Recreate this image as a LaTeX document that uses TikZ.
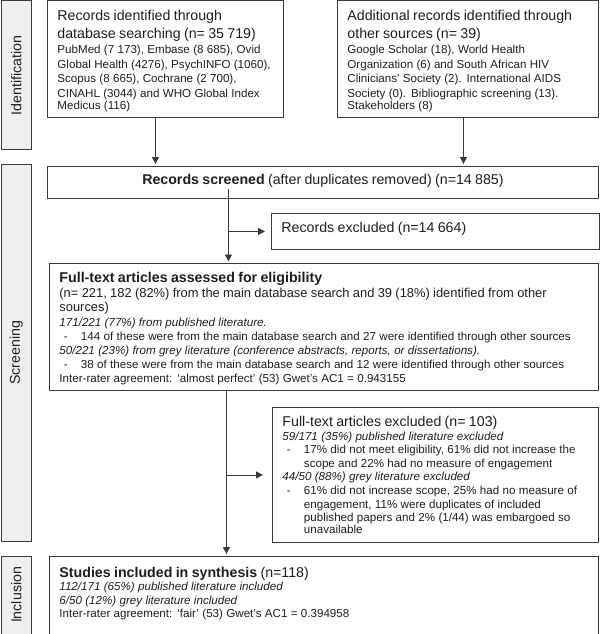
\documentclass[tikz,border=0pt]{standalone}
\usepackage{fontspec}
\usepackage{graphicx}
\setmainfont{Liberation Sans}
\usetikzlibrary{arrows.meta,calc}
\definecolor{lc}{HTML}{3A3A3A}
\definecolor{tc}{HTML}{1E1E1E}
\definecolor{sidefill}{HTML}{EFEFEF}
\newcommand{\fhead}{\fontsize{14.2}{18}\selectfont}
\newcommand{\fmid}{\fontsize{12.9}{14.6}\selectfont}
\newcommand{\fsmall}{\fontsize{11.6}{14.6}\selectfont}
\newcommand{\fsmallb}{\fontsize{11.6}{13.6}\selectfont}
\newcommand{\dashit}{\makebox[21.5pt][l]{\hspace{4.5pt}-}}
\newcommand{\indt}{\hspace*{21.5pt}}
\begin{document}
\begin{tikzpicture}[x=1pt,y=-1pt,
  box/.style={draw=lc, line width=0.9pt, anchor=north west, inner xsep=10pt, inner ysep=0pt, align=left, text=tc},
  side/.style={draw=lc, fill=sidefill, line width=0.9pt, anchor=north west, minimum width=30.5pt, inner sep=0pt, text=tc},
  arr/.style={draw=lc, line width=0.9pt, -{Triangle[length=7pt,width=7pt]}}]
\useasboundingbox (0,0) rectangle (600,634);

% stage labels
\node[side, minimum height=148.5pt] (sid) at (0.5,0.5) {\rotatebox{90}{\fhead Identification}};
\node[side, minimum height=377pt] (sscr) at (0.5,164) {\rotatebox{90}{\fhead Screening}};
\node[side, minimum height=78pt] (sinc) at (0.5,555.5) {\rotatebox{90}{\fhead Inclusion}};

% identification boxes
\node[box, minimum width=236pt, minimum height=116.5pt, text width=216pt] (b1) at (47,0.5)
{{\fhead Records identified through\\database searching (n= 35 719)\par}
\fsmall PubMed (7 173), Embase (8 685), Ovid\\Global Health (4276), PsychINFO (1060),\\Scopus (8 665), Cochrane (2 700),\\CINAHL (3044) and WHO Global Index\\Medicus (116)\vspace*{-4pt}};

\node[box, minimum width=261pt, minimum height=116.5pt, text width=241pt] (b2) at (337,0.5)
{{\fhead Additional records identified through\\other sources (n= 39)\par}
\fsmall Google Scholar (18), World Health\\Organization (6) and South African HIV\\Clinicians’ Society (2). International AIDS\\Society (0). Bibliographic screening (13).\\Stakeholders (8)\vspace*{-4pt}};

% screening
\node[box, minimum width=551pt, minimum height=32pt, text width=531pt, align=center] (rs) at (47,166)
{\fhead\textbf{Records screened} (after duplicates removed) (n=14 885)\vspace*{4pt}};

\node[box, minimum width=327.5pt, minimum height=36pt, text width=307.5pt] (re) at (271,213)
{\fhead Records excluded (n=14 664)\vspace*{6pt}};

\node[box, minimum width=549pt, minimum height=127pt, text width=529pt] (ft) at (49,263)
{{\fhead\textbf{Full-text articles assessed for eligibility}\par}
{\fmid (n= 221, 182 (82\%) from the main database search and 39 (18\%) identified from other\\sources)\par}
\fontsize{11.6}{14.2}\selectfont
\textit{171/221 (77\%) from published literature.}\\
\dashit 144 of these were from the main database search and 27 were identified through other sources\\
\textit{50/221 (23\%) from grey literature (conference abstracts, reports, or dissertations).}\\
\dashit 38 of these were from the main database search and 12 were identified through other sources\\[1.5pt]
Inter-rater agreement: ‘almost perfect’ (53) Gwet’s AC1 = 0.943155\vspace*{-3pt}};

\node[box, minimum width=326pt, minimum height=135pt, text width=306pt] (ex) at (272,407)
{{\fhead Full-text articles excluded (n= 103)\par}
\fsmallb
\textit{59/171 (35\%) published literature excluded}\\
\dashit 17\% did not meet eligibility, 61\% did not increase the\\
\indt scope and 22\% had no measure of engagement\\
\textit{44/50 (88\%) grey literature excluded}\\
\dashit 61\% did not increase scope, 25\% had no measure of\\
\indt engagement, 11\% were duplicates of included\\
\indt published papers and 2\% (1/44) was embargoed so\\
\indt unavailable};

% inclusion
\node[box, minimum width=549pt, minimum height=78pt, text width=529pt] (st) at (49,555.5)
{{\fhead\textbf{Studies included in synthesis} (n=118)\par}
\fsmallb
\textit{112/171 (65\%) published literature included}\\
\textit{6/50 (12\%) grey literature included}\\[1pt]
Inter-rater agreement: ‘fair’ (53) Gwet’s AC1 = 0.394958\vspace*{3pt}};

% connectors
\draw[arr, shorten >=2pt] ([xshift=-10pt]b1.south) -- ([xshift=-10pt]b1.south |- rs.north);
\draw[arr, shorten >=2pt] ([xshift=-4.5pt]b2.south) -- ([xshift=-4.5pt]b2.south |- rs.north);

\coordinate (v1) at ([xshift=-94.5pt]rs.south);
\draw[arr, shorten >=1.5pt] ([yshift=10pt]v1) -- (v1 |- ft.north);
\draw[arr, shorten >=6pt] (v1 |- re.west) -- (re.west);

\coordinate (v2) at ([xshift=-97.5pt]ft.south);
\draw[arr, shorten >=1.5pt] (v2) -- (v2 |- st.north);
\draw[arr, shorten >=9pt] (v2 |- ex.west) -- (ex.west);
\end{tikzpicture}
\end{document}
